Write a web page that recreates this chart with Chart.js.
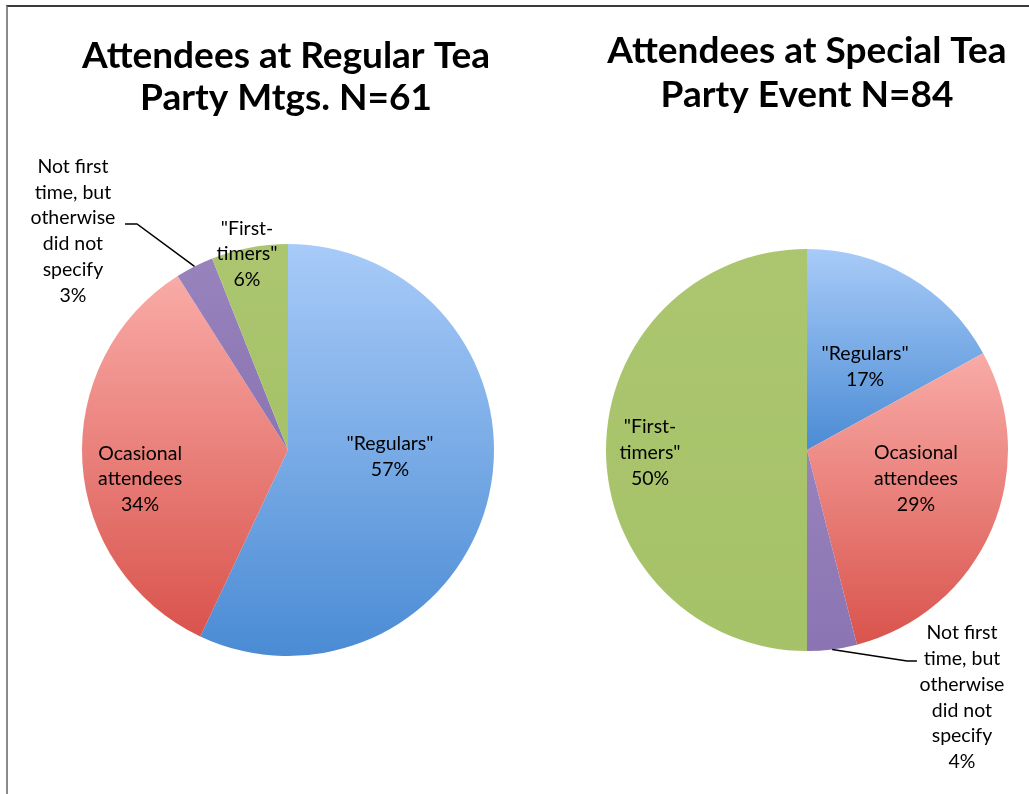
<!DOCTYPE html>
<html>
<head>
<meta charset="utf-8">
<script src="https://cdn.jsdelivr.net/npm/chart.js@4.4.1/dist/chart.umd.min.js"></script>
<style>
  html, body { margin: 0; padding: 0; background: #fff; }
  body { width: 1029px; height: 794px; position: relative; overflow: hidden; }
  .frame { position: absolute; left: 6px; top: 5px; right: -10px; bottom: -10px;
           border-top: 2px solid #3a3a3a; border-left: 2px solid #8a8a8a; }
  canvas { position: absolute; top: 0; }
  #regularChart { left: 0; }
  #specialChart { left: 560px; }
</style>
</head>
<body>
<div class="frame"></div>
<canvas id="regularChart" width="560" height="794"></canvas>
<canvas id="specialChart" width="469" height="794"></canvas>
<script>
// categories (clockwise from 12 o'clock)
const categories = ['"Regulars"', 'Ocasional attendees', 'Not first time, but otherwise did not specify', '"First-timers"'];
// label text broken onto lines, as in the picture
const labelLines = [['"Regulars"'], ['Ocasional', 'attendees'], ['Not first', 'time, but', 'otherwise', 'did not', 'specify'], ['"First-', 'timers"']];

// series values (percent)
const regularMtgValues = [57, 34, 3, 6];
const specialEventValues = [17, 29, 4, 50];

const regularTitle = ['Attendees at Regular Tea', 'Party Mtgs. N=61'];
const specialTitle = ['Attendees at Special Tea', 'Party Event N=84'];

// slice colours: [top of gradient, bottom of gradient]
const sliceColors = [
    ['#a8cbf8', '#4a8bd4'],
    ['#f9aba7', '#d9534c'],
    ['#9883bd', '#8a74b2'],
    ['#abc66f', '#a6c268']
];

// vertical gradient over the bounding box of each slice (like Excel's fill)
function sliceFill(ctx) {
    const chart = ctx.chart;
    const area = chart.chartArea;
    const pair = sliceColors[ctx.dataIndex];
    if (!area) return pair[1];
    const vals = chart.data.datasets[0].data;
    const total = vals.reduce((a, b) => a + b, 0);
    let before = 0;
    for (let k = 0; k < ctx.dataIndex; k++) before += vals[k];
    const a0 = before / total * Math.PI * 2;
    const a1 = (before + vals[ctx.dataIndex]) / total * Math.PI * 2;
    const cx = (area.left + area.right) / 2;
    const cy = (area.top + area.bottom) / 2;
    const r = Math.min(area.width, area.height) / 2;
    const ys = [cy, cy - r * Math.cos(a0), cy - r * Math.cos(a1)];
    if (a0 <= 0.0001 || a1 >= Math.PI * 2 - 0.0001) ys.push(cy - r);
    if (a0 <= Math.PI && a1 >= Math.PI) ys.push(cy + r);
    const y0 = Math.min(...ys), y1 = Math.max(...ys);
    const g = chart.ctx.createLinearGradient(0, y0, 0, y1 + 1);
    g.addColorStop(0, pair[0]);
    g.addColorStop(1, pair[1]);
    return g;
}

// titles + data labels + leader lines
const pieLabels = {
    id: 'pieLabels',
    afterDatasetsDraw(chart, args, opts) {
        const c = chart.ctx;
        const meta = chart.getDatasetMeta(0);
        const vals = chart.data.datasets[0].data;
        c.save();
        c.fillStyle = '#000';
        c.textAlign = 'center';

        // title
        c.font = 'bold 37px Lato';
        c.textBaseline = 'alphabetic';
        opts.title.forEach((t, i) => c.fillText(t, opts.titleX, opts.titleY[i]));

        c.font = '19.5px Lato';
        c.textBaseline = 'middle';
        meta.data.forEach((arc, i) => {
            const r = arc.outerRadius;
            const pos = opts.places[i];
            const lines = labelLines[i].concat([vals[i] + '%']);
            const lx = arc.x + pos[0] * r;
            const ly = arc.y + pos[1] * r;
            const lh = 25.8;
            lines.forEach((s, j) => c.fillText(s, lx, ly + (j - (lines.length - 1) / 2) * lh));

            const lead = opts.leaders[i];
            if (lead) {
                const mid = (arc.startAngle + arc.endAngle) / 2;
                c.strokeStyle = '#000';
                c.lineWidth = 1.5;
                c.beginPath();
                c.moveTo(arc.x + Math.cos(mid) * r, arc.y + Math.sin(mid) * r);
                lead.forEach(p => c.lineTo(arc.x + p[0] * r, arc.y + p[1] * r));
                c.stroke();
            }
        });
        c.restore();
    }
};

function makePie(id, values, padding, labelOpts) {
    return new Chart(document.getElementById(id).getContext('2d'), {
        type: 'pie',
        data: {
            labels: categories,
            datasets: [{
                data: values,
                backgroundColor: sliceFill,
                borderWidth: 0
            }]
        },
        options: {
            responsive: false,
            animation: false,
            layout: { padding: padding },
            plugins: {
                legend: { display: false },
                tooltip: { enabled: false },
                pieLabels: labelOpts
            }
        },
        plugins: [pieLabels]
    });
}

makePie('regularChart', regularMtgValues,
    { left: 82, right: 66, top: 244, bottom: 138 },
    {
        title: regularTitle, titleX: 286, titleY: [68, 110],
        places: [[0.495, 0.034], [-0.718, 0.141], [-1.044, -1.063], [-0.199, -0.951]],
        leaders: [null, null, [[-0.733, -1.097], [-0.791, -1.097]], null]
    });

makePie('specialChart', specialEventValues,
    { left: 46, right: 21, top: 249, bottom: 143 },
    {
        title: specialTitle, titleX: 247, titleY: [63, 107],
        places: [[0.289, -0.415], [0.542, 0.144], [0.771, 1.231], [-0.781, 0.015]],
        leaders: [null, null, [[0.498, 1.050], [0.547, 1.050]], null]
    });
</script>
</body>
</html>
